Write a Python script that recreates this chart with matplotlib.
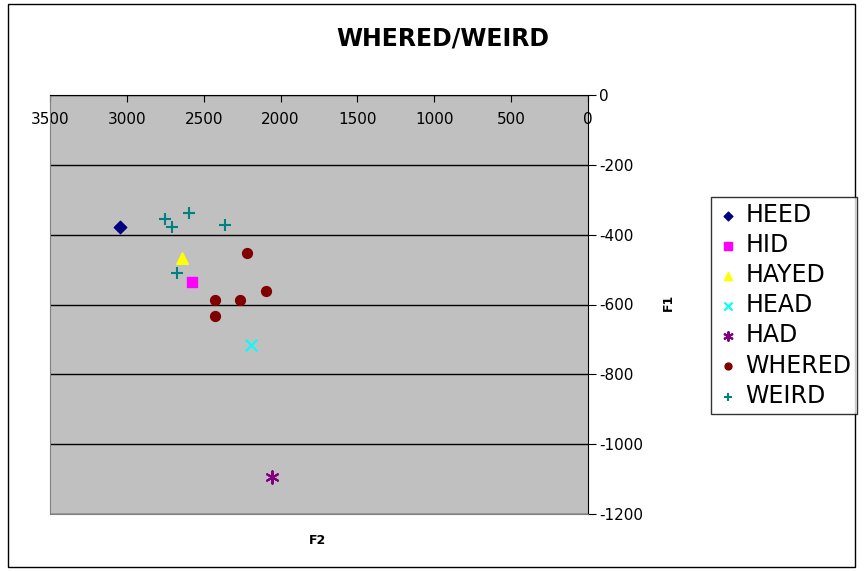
import matplotlib.pyplot as plt
from matplotlib.patches import Rectangle

plt.rcParams['font.family'] = ['DejaVu Sans']
plt.rcParams['axes.unicode_minus'] = False

# formant values (F2, F1) per vowel, F1 plotted negative
heed_f2 = [3045]
heed_f1 = [-378]
hid_f2 = [2576]
hid_f1 = [-536]
hayed_f2 = [2641]
hayed_f1 = [-467]
head_f2 = [2192]
head_f1 = [-716]
had_f2 = [2056]
had_f1 = [-1094]
whered_f2 = [2218, 2095, 2426, 2264, 2426]
whered_f1 = [-453, -562, -587, -587, -633]
weird_f2 = [2752, 2706, 2596, 2361, 2674]
weird_f1 = [-355, -378, -338, -372, -510]

x_ticks = [3500, 3000, 2500, 2000, 1500, 1000, 500, 0]
y_ticks = [0, -200, -400, -600, -800, -1000, -1200]

fig = plt.figure(figsize=(8.64, 5.71), dpi=100)
fig.patches.append(Rectangle((8 / 864, 4 / 571), 847 / 864, 563 / 571,
                             transform=fig.transFigure, fill=False,
                             edgecolor='black', linewidth=1))

ax = fig.add_axes([50 / 864, 1 - 514 / 571, 538 / 864, 419 / 571])
ax.set_facecolor('#C0C0C0')

ax.scatter(heed_f2, heed_f1, marker='D', s=40, color='#000080', label='HEED')
ax.scatter(hid_f2, hid_f1, marker='s', s=55, color='#FF00FF', label='HID')
ax.scatter(hayed_f2, hayed_f1, marker='^', s=70, color='#FFFF00', label='HAYED')
ax.scatter(head_f2, head_f1, marker='x', s=70, color='#00FFFF', linewidths=1.5, label='HEAD')
ax.scatter(had_f2, had_f1, marker=(6, 2, 0), s=80, color='#800080', linewidths=1.5, label='HAD')
ax.scatter(whered_f2, whered_f1, marker='o', s=50, color='#800000', label='WHERED')
ax.scatter(weird_f2, weird_f1, marker='+', s=80, color='#008080', linewidths=1.5, label='WEIRD')

ax.set_xlim(3500, 0)
ax.set_ylim(-1200, 0)
ax.set_xticks(x_ticks)
ax.set_yticks(y_ticks)
ax.xaxis.tick_top()
ax.yaxis.tick_right()
ax.tick_params(axis='x', direction='in', length=5, pad=-12, labelsize=11)
ax.tick_params(axis='y', direction='out', length=6, labelsize=11, pad=2)
for lbl in ax.get_xticklabels():
    lbl.set_verticalalignment('top')
ax.yaxis.grid(True, color='black', linewidth=1)
ax.set_axisbelow(True)
for side in ['left', 'bottom']:
    ax.spines[side].set_color('#808080')
ax.spines['top'].set_color('black')
ax.spines['right'].set_color('black')

fig.text(443 / 864, 1 - 38 / 571, 'WHERED/WEIRD', ha='center', va='center',
         fontsize=17, fontweight='bold')
fig.text(318 / 864, 1 - 540 / 571, 'F2', ha='center', va='center',
         fontsize=9, fontweight='bold')
fig.text(668 / 864, 1 - 302 / 571, 'F1', ha='center', va='center',
         fontsize=9, fontweight='bold', rotation=90)

leg = fig.legend(loc='upper left', bbox_to_anchor=(711 / 864, 1 - 197 / 571),
                 fontsize=17, frameon=True, fancybox=False, handletextpad=0.3,
                 handlelength=0.9, borderpad=0.25, labelspacing=0.26,
                 markerscale=0.7, borderaxespad=0)
leg.get_frame().set_edgecolor('black')
leg.get_frame().set_linewidth(1)

fig.savefig('out.png', dpi=100)
